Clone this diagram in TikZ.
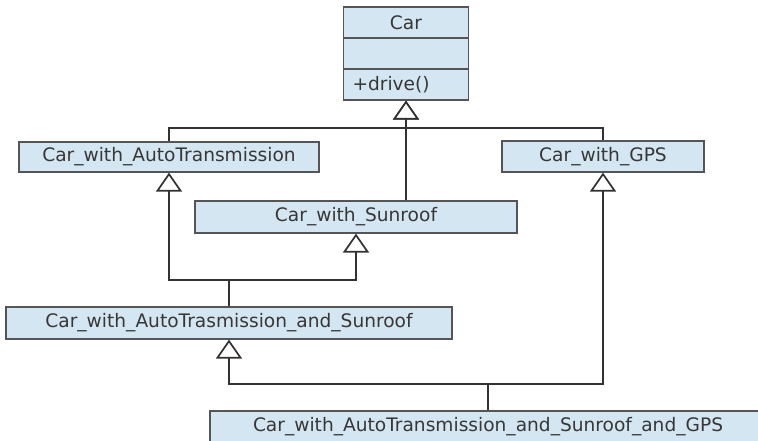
\documentclass[tikz,border=0pt]{standalone}
\usepackage{fontspec}
\setmainfont{DejaVu Sans}
\usetikzlibrary{arrows.meta}
\definecolor{boxfill}{RGB}{212,230,242}
\definecolor{boxline}{RGB}{85,85,85}
\definecolor{wire}{RGB}{50,50,50}
\definecolor{txt}{RGB}{55,55,55}
\begin{document}
\begin{tikzpicture}[x=1pt,y=-1pt,
  cls/.style={draw=boxline,line width=1.2pt,fill=boxfill,rectangle,inner sep=0pt,
    font=\fontsize{18.6}{20}\selectfont,text=txt},
  wireline/.style={draw=wire,line width=1.7pt},
  inh/.style={wireline,-{Triangle[open,length=19pt,width=26pt,fill=white]}}]
\useasboundingbox (0,0) rectangle (758,440);
\clip (0,0) rectangle (758,440);
% Car class
\node[cls,minimum width=125pt,minimum height=31pt] (cartitle) at (406,22.5) {Car};
\node[cls,minimum width=125pt,minimum height=31pt] (carattr) at (406,53.5) {};
\node[cls,minimum width=125pt,minimum height=31pt,text width=107pt,align=left] (carops) at (406,84.5) {+drive()};
% subclasses
\node[cls,minimum width=300pt,minimum height=30pt] (atr) at (169,157) {Car\_with\_AutoTransmission};
\node[cls,minimum width=322pt,minimum height=32pt] (sun) at (356,217) {Car\_with\_Sunroof};
\node[cls,minimum width=202pt,minimum height=31pt] (gps) at (603,156.5) {Car\_with\_GPS};
\node[cls,minimum width=446pt,minimum height=32pt] (ats) at (229,323) {Car\_with\_AutoTrasmission\_and\_Sunroof};
\node[cls,minimum width=556pt,minimum height=32pt] (fin) at (488,427) {Car\_with\_AutoTransmission\_and\_Sunroof\_and\_GPS};
% junctions
\coordinate (j1) at (406,128);
\coordinate (j2) at (229,280);
\coordinate (j3) at (488,384);
% connectors
\draw[wireline] (atr.north) |- (j1) -| (gps.north);
\draw[inh] (j1) -- (carops.south);
\draw[inh] (sun.north -| carops.south) -- (carops.south);
\draw[wireline] (ats.north) -- (j2);
\draw[inh] (j2) -| (atr.south);
\draw[inh] (j2) -| (sun.south);
\draw[wireline] (fin.north) -- (j3);
\draw[inh] (j3) -| (ats.south);
\draw[inh] (j3) -| (gps.south);
\end{tikzpicture}
\end{document}
